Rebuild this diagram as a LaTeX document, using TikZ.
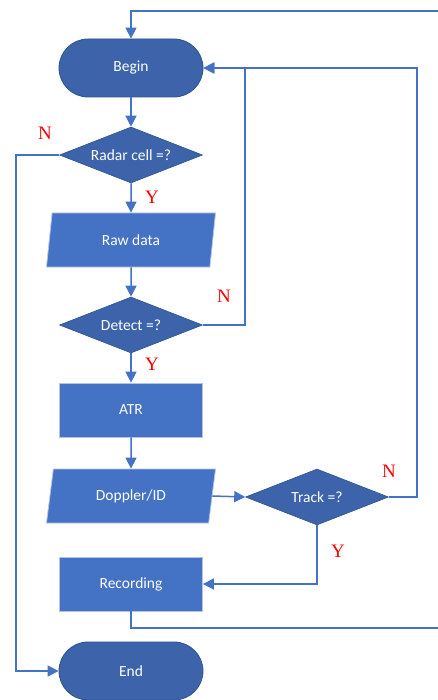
\documentclass[tikz,border=0pt]{standalone}
\usepackage{fontspec}
\setmainfont{Carlito}
\newfontfamily\lblfont{Liberation Serif}
\usetikzlibrary{shapes.geometric,arrows.meta}
\definecolor{acc}{HTML}{4472C4}
\definecolor{accdark}{HTML}{3D63AA}
\definecolor{bord}{HTML}{2F528F}
\definecolor{lightbord}{HTML}{B4C3E0}
\tikzset{
  base/.style={text=white, font=\fontsize{15.5}{18}\selectfont, inner sep=0pt},
  term/.style={base, fill=accdark, draw=bord, line width=0.8pt, rounded corners=29pt, minimum width=144pt, minimum height=58pt},
  decide/.style={base, diamond, fill=accdark, draw=bord, line width=0.6pt, minimum width=143pt, minimum height=56pt, aspect=2.55},
  proc/.style={base, rectangle, fill=acc, draw=lightbord, line width=0.8pt, minimum width=143pt, minimum height=54pt},
  io/.style={base, trapezium, trapezium left angle=62.6, trapezium right angle=117.4, trapezium stretches body=true, fill=acc, draw=lightbord, line width=0.8pt, minimum width=169pt, minimum height=54pt},
  conn/.style={draw=acc, line width=1.5pt},
  arr/.style={conn, -{Triangle[length=11pt,width=11pt]}},
  yn/.style={text=red, font=\lblfont\fontsize{19}{21}\selectfont, inner sep=0pt}
}
\begin{document}
\begin{tikzpicture}[x=1pt,y=-1pt]
\useasboundingbox (0,0) rectangle (438,700);
\fill[white] (0,0) rectangle (438,700);
\node[term] (begin) at (131,68) {Begin};
\node[decide] (radar) at (131,155) {Radar cell =?};
\node[io] (raw) at (131,240) {Raw data};
\node[decide] (detect) at (131,325) {Detect =?};
\node[proc] (atr) at (131,410) {ATR};
\node[io] (dop) at (131,496) {Doppler/ID};
\node[decide] (track) at (317,497) {Track =?};
\node[proc] (rec) at (131,584) {Recording};
\node[term] (end) at (131,671) {End};

\coordinate (lft) at (16,155);
\coordinate (dn) at (245,325);
\coordinate (tn) at (417,68);
\coordinate (rb) at (442,628);
\coordinate (rt) at (442,11);

\draw[arr] (begin.south) -- (radar.north);
\draw[arr] (radar.south) -- (raw.north);
\draw[arr] (raw.south) -- (detect.north);
\draw[arr] (detect.south) -- (atr.north);
\draw[arr] (atr.south) -- (dop.north);
\draw[arr] (dop.east) -- (track.west);
\draw[arr] (radar.west) -- (lft) |- (end.west);
\draw[arr] (detect.east) -- (dn) |- (begin.east);
\draw[arr] (track.east) -| (tn) -- (begin.east);
\draw[arr] (track.south) |- (rec.east);
\draw[arr] (rec.south) |- (rb) -- (rt) -| (begin.north);

\node[yn] (n1) at (45,133) {N};
\node[yn] (y1) at (152,197) {Y};
\node[yn] (n2) at (224,296) {N};
\node[yn] (y2) at (152,364) {Y};
\node[yn] (n3) at (389,471) {N};
\node[yn] (y3) at (338,551) {Y};
\end{tikzpicture}
\end{document}
